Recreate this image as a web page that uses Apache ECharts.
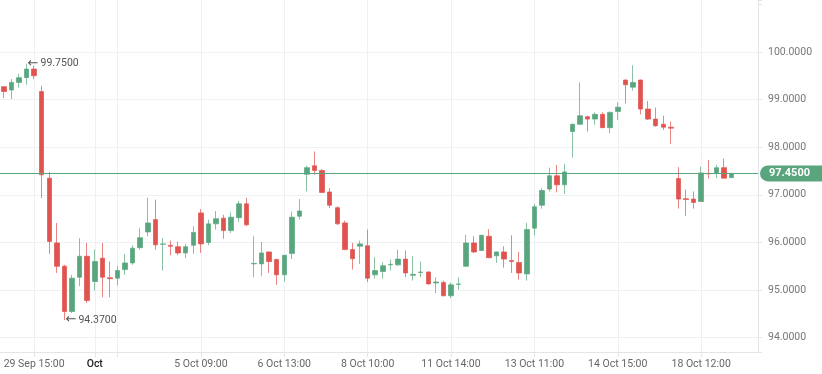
<!DOCTYPE html>
<html>
<head>
<meta charset="utf-8">
<script src="https://cdn.jsdelivr.net/npm/echarts@6/dist/echarts.min.js"></script>
<style>
html,body{margin:0;padding:0;background:#fff;}
#chart{width:822px;height:374px;}
</style>
</head>
<body>
<div id="chart"></div>
<script>
// ---- data ----
const opens  = [99.27,99.20,99.36,99.46,99.64,99.17,97.35,95.99,95.50,94.55,
                95.27,95.71,95.18,95.67,95.26,95.25,95.43,95.57,95.89,96.22,
                96.48,95.96,95.94,95.91,95.78,95.94,96.62,96.00,96.39,96.51,
                96.25,96.52,96.81,95.55,95.55,95.80,95.64,95.32,95.77,96.55,
                97.43,97.61,97.51,97.06,96.73,96.41,95.85,95.92,95.93,95.32,
                95.39,95.53,95.53,95.65,95.31,95.37,95.38,95.15,95.16,94.88,
                95.12,95.50,95.99,95.83,96.13,95.72,95.80,95.62,95.58,95.34,
                96.30,96.78,97.12,97.40,97.21,98.33,98.48,98.64,98.59,98.69,
                98.41,98.75,99.41,99.26,99.41,98.80,98.59,98.48,98.42,97.34,
                96.92,96.91,96.86,97.45,97.46,97.57,97.36];
const closes = [99.17,99.36,99.46,99.64,99.50,97.42,96.02,95.50,94.55,95.25,
                95.71,94.78,95.60,95.27,95.24,95.41,95.57,95.88,96.10,96.41,
                95.95,95.97,95.92,95.78,95.91,96.21,95.97,96.39,96.50,96.25,
                96.53,96.81,96.37,95.56,95.78,95.60,95.32,95.73,96.53,96.66,
                97.57,97.51,97.05,96.78,96.39,95.85,95.66,95.97,95.25,95.41,
                95.51,95.54,95.65,95.36,95.33,95.38,95.13,95.17,94.88,95.11,
                95.13,95.99,95.80,96.15,95.68,95.80,95.65,95.60,95.36,96.27,
                96.75,97.09,97.40,97.21,97.48,98.48,98.66,98.59,98.69,98.41,
                98.73,98.84,99.31,99.36,98.80,98.59,98.45,98.42,98.40,96.91,
                96.90,96.84,97.46,97.44,97.57,97.35,97.45];
const lows   = [99.03,99.01,99.25,99.31,99.43,96.93,95.76,95.36,94.37,94.52,
                95.08,94.73,94.99,94.85,94.85,95.10,95.32,95.53,95.85,96.13,
                95.85,95.41,95.73,95.74,95.67,95.76,95.78,95.94,96.27,96.08,
                96.20,96.43,96.34,95.27,95.29,95.36,95.11,95.18,95.65,96.48,
                97.07,97.42,97.04,96.72,96.37,95.84,95.43,95.55,95.17,95.24,
                95.24,95.41,95.51,95.27,95.20,95.27,95.11,94.94,94.87,94.83,
                95.01,95.49,95.78,95.82,95.67,95.57,95.47,95.36,95.22,95.20,
                96.15,96.71,97.07,97.05,97.02,97.78,98.47,98.33,98.47,98.40,
                98.29,98.57,98.92,99.19,98.69,98.57,98.43,98.36,98.07,96.71,
                96.56,96.71,96.85,97.34,97.35,97.35,97.36];
const highs  = [99.28,99.43,99.54,99.75,99.71,99.29,97.48,96.41,95.53,95.32,
                96.09,95.99,95.85,95.99,95.60,95.50,95.76,95.94,96.30,96.94,
                96.90,96.09,96.04,96.02,95.97,96.34,96.70,96.48,96.66,96.58,
                96.63,96.87,96.94,96.13,96.01,95.81,95.66,95.74,96.65,96.91,
                97.61,97.91,97.54,97.14,96.76,96.46,95.99,96.04,96.27,95.69,
                95.58,95.64,95.85,95.83,95.71,95.60,95.39,95.27,95.20,95.16,
                95.27,96.16,96.13,96.16,96.28,95.81,95.92,96.15,95.80,96.41,
                96.81,97.14,97.57,97.63,97.65,98.50,99.36,98.66,98.73,98.73,
                98.75,98.94,99.42,99.72,99.42,98.97,98.83,98.66,98.54,97.58,
                97.11,97.07,97.59,97.73,97.63,97.76,97.45];
// category slots on the time axis (97 candles + 3 empty slots on the right)
const slotCount = 100;
const tickIndex = [4, 12, 15, 26, 37, 48, 59, 70, 81, 92];
const tickText  = ['29 Sep 15:00', 'Oct', '', '5 Oct 09:00', '6 Oct 13:00', '8 Oct 10:00',
                   '11 Oct 14:00', '13 Oct 11:00', '14 Oct 15:00', '18 Oct 12:00'];
const monthTick = 'Oct';

// ---- build ----
const categories = Array.from({length: slotCount}, (_, i) => String(i));
const candles = opens.map((o, i) => [o, closes[i], lows[i], highs[i]]);
const lastPrice = closes[closes.length - 1];

const GREEN = '#59a67e', RED = '#e0534e';
const FONT = 'Roboto, "Noto Sans", sans-serif';
const isTick = (idx) => tickIndex.indexOf(idx) >= 0;

const chart = echarts.init(document.getElementById('chart'), null, {renderer: 'canvas'});
chart.setOption({
  animation: false,
  backgroundColor: '#fff',
  textStyle: {fontFamily: FONT},
  grid: {left: 0, right: 64, top: 0, bottom: 22, containLabel: false},
  xAxis: {
    type: 'category',
    data: categories,
    boundaryGap: true,
    axisLine: {show: true, lineStyle: {color: '#e2e5e9'}},
    axisTick: {show: true, alignWithLabel: true, interval: isTick, length: 5, lineStyle: {color: '#e2e5e9'}},
    splitLine: {show: true, alignWithLabel: true, interval: isTick, lineStyle: {color: '#eef0f3'}},
    axisLabel: {
      interval: isTick, margin: 7, fontSize: 10.5, color: '#666', fontFamily: FONT,
      formatter: (v, i) => {
        const k = tickIndex.indexOf(Number(v));
        if (k < 0) return '';
        const t = tickText[k];
        return t === monthTick ? '{m|' + t + '}' : t;
      },
      rich: {m: {color: '#222', fontSize: 10.5, fontFamily: FONT, fontWeight: 500}}
    }
  },
  yAxis: {
    type: 'value',
    position: 'right',
    scale: true,
    min: 93.70,
    max: 101.09,
    splitNumber: 7,
    minInterval: 1,
    maxInterval: 1,
    axisLine: {show: true, lineStyle: {color: '#e2e5e9'}},
    axisTick: {show: true, length: 4, lineStyle: {color: '#e2e5e9'}},
    splitLine: {show: true, lineStyle: {color: ['rgba(0,0,0,0)', '#eef0f3', '#eef0f3', '#eef0f3', '#eef0f3', '#eef0f3', '#eef0f3', '#eef0f3', 'rgba(0,0,0,0)', 'rgba(0,0,0,0)']}},
    axisLabel: {
      margin: 10, fontSize: 10.5, color: '#777', fontFamily: FONT,
      formatter: (v) => (v >= 93.95 && v <= 100.05) ? v.toFixed(4) : ''
    }
  },
  series: [{
    type: 'candlestick',
    data: candles,
    barWidth: 5,
    itemStyle: {
      color: GREEN, color0: RED,
      borderColor: 'rgba(89,166,126,0.7)', borderColor0: 'rgba(224,83,78,0.7)',
      borderWidth: 1
    },
    markPoint: {
      symbol: 'circle', symbolSize: 0, silent: true,
      label: {
        show: true, position: 'right', distance: 1, color: '#555', fontSize: 10.5, fontFamily: FONT,
        formatter: (p) => '{a|\u2190}' + Number(p.value).toFixed(4),
        rich: {a: {fontFamily: '"DejaVu Sans"', fontSize: 13, color: '#555', width: 13}}
      },
      data: [{type: 'max', valueDim: 'highest'}, {type: 'min', valueDim: 'lowest'}]
    },
    markLine: {
      silent: true, symbol: ['none', 'none'],
      lineStyle: {color: GREEN, width: 1, type: 'solid'},
      label: {
        show: true, position: 'end', distance: 2,
        formatter: (p) => Number(p.value).toFixed(4),
        color: '#fff', fontWeight: 'bold', fontSize: 11, fontFamily: FONT,
        backgroundColor: GREEN, padding: [3, 16, 2, 9], borderRadius: [8, 0, 0, 8]
      },
      data: [{yAxis: lastPrice}]
    }
  }]
});
</script>
</body>
</html>
